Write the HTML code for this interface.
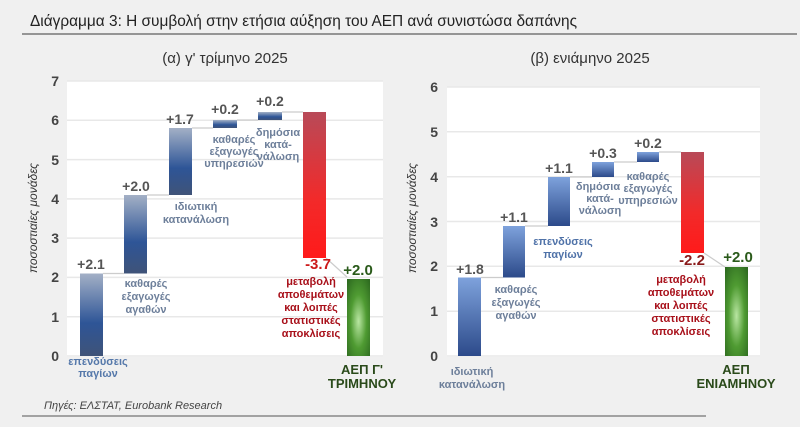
<!DOCTYPE html>
<html><head><meta charset="utf-8"><style>
html,body{margin:0;padding:0;background:#f0f0f0;}
svg{display:block;font-family:"Liberation Sans","DejaVu Sans",sans-serif;}
</style></head><body>
<svg width="800" height="427" viewBox="0 0 800 427" xmlns="http://www.w3.org/2000/svg">
<defs>
<linearGradient id="bl" x1="0" y1="0" x2="0" y2="1">
<stop offset="0" stop-color="#a3b0c6"/><stop offset="0.6" stop-color="#2e5597"/><stop offset="1" stop-color="#3f5378"/></linearGradient>
<linearGradient id="br" x1="0" y1="0" x2="0" y2="1">
<stop offset="0" stop-color="#7ea2dc"/><stop offset="1" stop-color="#2c4a8a"/></linearGradient>
<linearGradient id="rd" x1="0" y1="0" x2="0" y2="1">
<stop offset="0" stop-color="#b84a58"/><stop offset="0.6" stop-color="#f22a2a"/><stop offset="1" stop-color="#ff1a1a"/></linearGradient>
<radialGradient id="gr" cx="0.5" cy="0.55" r="0.7">
<stop offset="0" stop-color="#b9e6a2"/><stop offset="0.5" stop-color="#4f9b32"/><stop offset="1" stop-color="#2e6b20"/></radialGradient>
</defs>
<rect width="800" height="427" fill="#f0f0f0"/>
<text x="30" y="26" font-size="16" fill="#222" textLength="547" lengthAdjust="spacingAndGlyphs">Διάγραμμα 3: Η συμβολή στην ετήσια αύξηση του ΑΕΠ ανά συνιστώσα δαπάνης</text>
<line x1="22" y1="34" x2="797" y2="34" stroke="#777" stroke-width="1.5"/>
<text x="225" y="63" font-size="15" fill="#333" text-anchor="middle">(α) γ' τρίμηνο 2025</text>
<text x="590" y="63" font-size="15" fill="#333" text-anchor="middle">(β) ενιάμηνο 2025</text>

<!-- left plot -->
<rect x="67" y="81" width="316" height="276" fill="#fff"/>
<g stroke="#e8e8e8" stroke-width="1.5">
<line x1="67" y1="81" x2="383" y2="81"/><line x1="67" y1="120.3" x2="383" y2="120.3"/><line x1="67" y1="159.6" x2="383" y2="159.6"/><line x1="67" y1="198.9" x2="383" y2="198.9"/><line x1="67" y1="238.1" x2="383" y2="238.1"/><line x1="67" y1="277.4" x2="383" y2="277.4"/><line x1="67" y1="316.7" x2="383" y2="316.7"/><line x1="67" y1="356" x2="383" y2="356"/>
</g>
<g font-size="14" font-weight="bold" fill="#444" text-anchor="end">
<text x="59" y="86">7</text><text x="59" y="125">6</text><text x="59" y="165">5</text><text x="59" y="204">4</text><text x="59" y="243">3</text><text x="59" y="282">2</text><text x="59" y="322">1</text><text x="59" y="361">0</text>
</g>
<text transform="translate(37,218) rotate(-90)" font-size="12" font-style="italic" fill="#333" text-anchor="middle">ποσοστιαίες μονάδες</text>
<g stroke="#ccc" stroke-width="1.2">
<line x1="103" y1="273.5" x2="124" y2="273.5"/><line x1="147" y1="195" x2="169" y2="195"/><line x1="192" y1="128" x2="213" y2="128"/><line x1="237" y1="120" x2="258" y2="120"/><line x1="282" y1="112" x2="303" y2="112"/><line x1="326" y1="258" x2="347" y2="277"/>
</g>
<rect x="80" y="273.5" width="23" height="82.5" fill="url(#bl)"/>
<rect x="124" y="195" width="23" height="78.5" fill="url(#bl)"/>
<rect x="169" y="128" width="23" height="67" fill="url(#bl)"/>
<rect x="213" y="120" width="24" height="8" fill="url(#bl)"/>
<rect x="258" y="112" width="24" height="8" fill="url(#bl)"/>
<rect x="303" y="112" width="23" height="146" fill="url(#rd)"/>
<rect x="347" y="279" width="23" height="77" fill="url(#gr)"/>
<g font-size="14" font-weight="bold" fill="#555" text-anchor="middle">
<text x="91" y="269">+2.1</text><text x="136" y="191">+2.0</text><text x="180" y="124">+1.7</text><text x="225" y="114">+0.2</text><text x="270" y="106">+0.2</text>
<text x="358" y="275" fill="#2a5a1a" font-size="15">+2.0</text>
<text x="318" y="269" fill="#cc1a1a" font-size="15">-3.7</text>
</g>
<g font-size="11" font-weight="bold" fill="#6d7f9a" text-anchor="middle">
<text x="98" y="365" fill="#5578aa">επενδύσεις</text><text x="98" y="377" fill="#5578aa">παγίων</text>
<text x="146" y="287">καθαρές</text><text x="146" y="300">εξαγωγές</text><text x="146" y="313">αγαθών</text>
<text x="196" y="210">ιδιωτική</text><text x="196" y="223">κατανάλωση</text>
<text x="234" y="143">καθαρές</text><text x="234" y="155">εξαγωγές</text><text x="234" y="167">υπηρεσιών</text>
<text x="278" y="136">δημόσια</text><text x="278" y="148">κατά-</text><text x="278" y="160">νάλωση</text>
</g>
<g font-size="11" font-weight="bold" fill="#a8101a" text-anchor="middle">
<text x="311" y="285">μεταβολή</text><text x="311" y="298">αποθεμάτων</text><text x="311" y="311">και λοιπές</text><text x="311" y="324">στατιστικές</text><text x="311" y="337">αποκλίσεις</text>
</g>
<g font-size="13" font-weight="bold" fill="#2a4a1a" text-anchor="middle">
<text x="362" y="374">ΑΕΠ Γ'</text><text x="362" y="388">ΤΡΙΜΗΝΟΥ</text>
</g>

<!-- right plot -->
<rect x="447" y="87" width="313" height="270" fill="#fff"/>
<g stroke="#e8e8e8" stroke-width="1.5">
<line x1="447" y1="87" x2="760" y2="87"/><line x1="447" y1="131.8" x2="760" y2="131.8"/><line x1="447" y1="176.7" x2="760" y2="176.7"/><line x1="447" y1="221.5" x2="760" y2="221.5"/><line x1="447" y1="266.3" x2="760" y2="266.3"/><line x1="447" y1="311.2" x2="760" y2="311.2"/><line x1="447" y1="356" x2="760" y2="356"/>
</g>
<g font-size="14" font-weight="bold" fill="#444" text-anchor="end">
<text x="438" y="92">6</text><text x="438" y="137">5</text><text x="438" y="182">4</text><text x="438" y="227">3</text><text x="438" y="271">2</text><text x="438" y="316">1</text><text x="438" y="361">0</text>
</g>
<text transform="translate(416,218) rotate(-90)" font-size="12" font-style="italic" fill="#333" text-anchor="middle">ποσοστιαίες μονάδες</text>
<g stroke="#ccc" stroke-width="1.2">
<line x1="481" y1="277.5" x2="503" y2="277.5"/><line x1="525" y1="226" x2="548" y2="226"/><line x1="570" y1="177" x2="592" y2="177"/><line x1="614" y1="162" x2="637" y2="162"/><line x1="659" y1="152" x2="681" y2="152"/><line x1="704" y1="253" x2="725" y2="267"/>
</g>
<rect x="458" y="277.5" width="23" height="78.5" fill="url(#br)"/>
<rect x="503" y="226" width="22" height="51.5" fill="url(#br)"/>
<rect x="548" y="177" width="22" height="49" fill="url(#br)"/>
<rect x="592" y="162" width="22" height="15" fill="url(#br)"/>
<rect x="637" y="152" width="22" height="10" fill="url(#br)"/>
<rect x="681" y="152" width="23" height="101" fill="url(#rd)"/>
<rect x="725" y="267" width="23" height="89" fill="url(#gr)"/>
<g font-size="14" font-weight="bold" fill="#555" text-anchor="middle">
<text x="470" y="274">+1.8</text><text x="514" y="222">+1.1</text><text x="559" y="173">+1.1</text><text x="603" y="158">+0.3</text><text x="648" y="148">+0.2</text>
<text x="738" y="262" fill="#2a5a1a" font-size="15">+2.0</text>
<text x="692" y="265" fill="#8a1a1a" font-size="15">-2.2</text>
</g>
<g font-size="11" font-weight="bold" fill="#6d7f9a" text-anchor="middle">
<text x="472" y="375">ιδιωτική</text><text x="472" y="388">κατανάλωση</text>
<text x="516" y="293">καθαρές</text><text x="516" y="306">εξαγωγές</text><text x="516" y="319">αγαθών</text>
<text x="563" y="245" fill="#4f72a8">επενδύσεις</text><text x="563" y="258" fill="#4f72a8">παγίων</text>
<text x="598" y="190">δημόσια</text><text x="600" y="202">κατά-</text><text x="600" y="214">νάλωση</text>
<text x="648" y="180">καθαρές</text><text x="648" y="192">εξαγωγές</text><text x="648" y="204">υπηρεσιών</text>
</g>
<g font-size="11" font-weight="bold" fill="#a8101a" text-anchor="middle">
<text x="681" y="283">μεταβολή</text><text x="681" y="296">αποθεμάτων</text><text x="681" y="309">και λοιπές</text><text x="681" y="322">στατιστικές</text><text x="681" y="335">αποκλίσεις</text>
</g>
<g font-size="13" font-weight="bold" fill="#2a4a1a" text-anchor="middle">
<text x="736" y="374">ΑΕΠ</text><text x="736" y="388">ΕΝΙΑΜΗΝΟΥ</text>
</g>

<text x="44" y="409" font-size="11" font-style="italic" fill="#444">Πηγές: ΕΛΣΤΑΤ, Eurobank Research</text>
<line x1="22" y1="416" x2="706" y2="416" stroke="#555" stroke-width="1"/>
</svg>
</body></html>
